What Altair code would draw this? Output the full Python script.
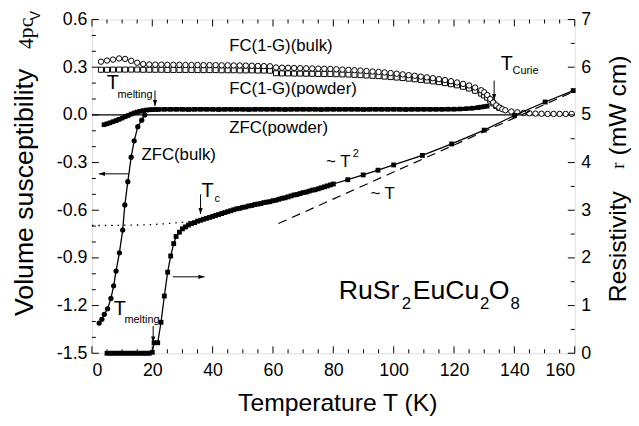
import altair as alt
import pandas as pd

W, H = 489, 338
FONT = "Liberation Sans"

# ---------------- data ----------------
fcb_T = [3,5,7,9,11,13,15,17,19,21,23,25,27,29,31,33,35,37,39,41,43,45,47,49,51,53,55,57,59,61,63,65,67,69,71,73,75,77,79,81,83,85,87,89,91,93,95,97,99,101,103,105,107,109,111,113,115,117,119,121,123,125,127,129,130,131,132,133,134,135,136,137,139,141,143,145,147,149,151,153,155,157,159]
fcb_chi = [0.335,0.342,0.348,0.355,0.352,0.340,0.328,0.320,0.317,0.316,0.316,0.315,0.315,0.315,0.314,0.314,0.314,0.313,0.313,0.313,0.312,0.312,0.311,0.311,0.310,0.309,0.308,0.307,0.306,0.298,0.297,0.296,0.295,0.294,0.293,0.292,0.291,0.290,0.289,0.287,0.285,0.283,0.281,0.279,0.276,0.273,0.270,0.267,0.263,0.259,0.255,0.250,0.246,0.241,0.236,0.231,0.225,0.219,0.212,0.204,0.195,0.185,0.172,0.155,0.142,0.125,0.100,0.078,0.060,0.046,0.036,0.029,0.021,0.016,0.012,0.010,0.008,0.007,0.006,0.006,0.006,0.006,0.006]

fcp_T = [3,5,7,9,11,13,15,17,19,21,23,25,27,29,31,33,35,37,39,41,43,45,47,49,51,53,55,57,59,61,63,65,67,69,71,73,75,77,79,81,83,85,87,89,91,93,95,97,99,101,103,105,107,109,111,113,115,117,119,121,123,125,127,129,130,131,132,133,134,135]
fcp_chi = [0.284,0.284,0.285,0.285,0.285,0.285,0.285,0.284,0.284,0.284,0.284,0.283,0.283,0.283,0.283,0.283,0.282,0.282,0.282,0.282,0.281,0.281,0.281,0.280,0.280,0.280,0.279,0.279,0.278,0.262,0.261,0.261,0.260,0.260,0.259,0.259,0.258,0.257,0.257,0.256,0.255,0.254,0.252,0.250,0.248,0.246,0.244,0.241,0.238,0.235,0.232,0.228,0.224,0.220,0.216,0.211,0.206,0.200,0.193,0.186,0.177,0.166,0.152,0.134,0.122,0.108,0.090,0.072,0.056,0.044]

zfcp_T = [4,5,6,7,8,9,10,11,12,13,14,15,16,17,18,19,20,21,22,24,26,28,30,32,34,36,38,40,42,44,46,48,50,52,54,56,58,60,62,64,66,68,70,72,74,76,78,80,82,84,86,88,90,92,94,96,98,100,102,104,106,108,110,112,114,116,118,120,122,124,126,128,129,130,131]
zfcp_chi = [-0.062,-0.056,-0.050,-0.043,-0.036,-0.028,-0.020,-0.012,-0.004,0.005,0.012,0.018,0.023,0.027,0.030,0.032,0.033,0.034,0.034,0.035,0.035,0.035,0.035,0.034,0.035,0.035,0.035,0.035,0.034,0.035,0.035,0.035,0.035,0.034,0.035,0.035,0.035,0.035,0.035,0.034,0.035,0.035,0.035,0.035,0.035,0.034,0.035,0.035,0.035,0.035,0.035,0.035,0.034,0.035,0.035,0.035,0.035,0.035,0.035,0.034,0.035,0.035,0.035,0.035,0.035,0.035,0.036,0.036,0.037,0.039,0.042,0.046,0.049,0.052,0.055]

zfcb_T = [2.4,3.3,4.1,5.2,6.3,7.2,8.0,9.1,10.2,10.9,11.9,13.0,14.0,15.2,16.5,17.5]
zfcb_chi = [-1.310,-1.286,-1.255,-1.220,-1.155,-1.076,-0.983,-0.868,-0.725,-0.567,-0.420,-0.266,-0.163,-0.074,-0.033,0.0]

rho_T = [5,6,7,8,9,10,11,12,13,14,15,16,17,18,19,20,20.6,21.8,22.9,24.0,25.1,26.1,27.1,27.9,29.0,30,31,32,33,34,35,36,37,38,39,40,41,42,43,44,45,46,47,48,49,50,51,52,53,54,55,56,57,58,59,60,61,62,63,64,65,66,67,68,69,70,71,72,73,74,75,76,77,78,79,80,84.8,89.9,94.8,100.0,109.5,119.2,130.0,140.1,150.2,159.5]
rho_val = [0,0,0,0,0,0,0,0,0,0,0,0,0,0,0,0.02,0.22,0.22,0.65,1.20,1.70,2.04,2.30,2.45,2.54,2.61,2.65,2.69,2.72,2.74,2.77,2.79,2.81,2.83,2.85,2.87,2.89,2.91,2.93,2.95,2.97,2.99,3.01,3.03,3.04,3.06,3.07,3.09,3.10,3.12,3.13,3.14,3.16,3.17,3.18,3.20,3.21,3.23,3.25,3.26,3.28,3.30,3.32,3.33,3.35,3.37,3.38,3.40,3.42,3.43,3.45,3.47,3.49,3.51,3.53,3.55,3.64,3.74,3.84,3.95,4.15,4.39,4.68,4.99,5.27,5.51]

dot_T = [0,5,10,15,20,25,30,35]
dot_rho = [2.68,2.68,2.685,2.69,2.70,2.72,2.745,2.78]

dash_T = [61.8,160]
dash_rho = [2.72,5.50]

x_major = [0,20,40,60,80,100,120,140,160]
x_minor = [5,10,15,25,30,35,45,50,55,65,70,75,85,90,95,105,110,115,125,130,135,145,150,155]
chi_major = [-1.5,-1.2,-0.9,-0.6,-0.3,0.0,0.3,0.6]
chi_minor = [-1.4,-1.3,-1.1,-1.0,-0.8,-0.7,-0.5,-0.4,-0.2,-0.1,0.1,0.2,0.4,0.5]
rho_major = [0,1,2,3,4,5,6,7]
rho_minor = [0.5,1.5,2.5,3.5,4.5,5.5,6.5]

# annotations (data coords)
labels = ["FC(1-G)(bulk)","FC(1-G)(powder)","ZFC(powder)","ZFC(bulk)","~ T","~ T"]
labels_T = [45.5,45.5,45.5,16.4,77.6,92.3]
labels_chi = [0.432,0.161,-0.080,-0.253,-0.296,-0.500]

bigT_T = [4.9,7.2,36.3,135.5]
bigT_chi = [0.198,-1.223,-0.482,0.321]
sub_text = ["melting","melting","c","Curie"]
sub_T = [8.5,10.8,40.6,139.4]
sub_chi = [0.124,-1.291,-0.531,0.278]

sup_text = ["2"]
sup_T = [86.4]
sup_chi = [-0.247]

formula_big = ["RuSr","EuCu","O"]
formula_big_T = [81.8,106.3,131.5]
formula_sub = ["2","2","8"]
formula_sub_T = [102.7,128.6,138.7]

varrow_T = [20.9,36.0,133.3,20.3]
varrow_from = [0.154,-0.500,0.216,-1.328]
varrow_to = [0.056,-0.624,0.093,-1.433]

harrow_chi = [-0.371,-1.019]
harrow_from = [12.1,26.8]
harrow_to = [2.3,37.3]
harrow_angle = [90,270]

# ---------------- scales / axes ----------------
xs = alt.Scale(domain=[0,160], nice=False, zero=False)
chis = alt.Scale(domain=[-1.5,0.6], nice=False, zero=False)
rhos = alt.Scale(domain=[0,7], nice=False, zero=False)

common = dict(labelFont=FONT, labelFontSize=18, labelColor="black", ticks=False,
              domain=False, grid=False, title=None)
x_axis = alt.Axis(values=x_major, format="d", labelPadding=9, **common)
chi_axis = alt.Axis(values=chi_major, labelPadding=5,
                    labelExpr="datum.value < 0 ? '-' + format(-datum.value, '.1f') : format(datum.value, '.1f')",
                    **common)
rho_axis = alt.Axis(orient="right", values=rho_major, format="d", labelPadding=6, **common)


def X(f):
    return alt.X(f"{f}:Q", scale=xs, axis=x_axis)


def X2(f):
    return alt.X2(f"{f}:Q")


def YC(f):
    return alt.Y(f"{f}:Q", scale=chis, axis=chi_axis)


def YR(f):
    return alt.Y(f"{f}:Q", scale=rhos, axis=rho_axis)


def df(**kw):
    return pd.DataFrame(kw)


ARROW = "M-0.35,-1L0.35,-1L0,0Z"

# ---------------- chi layers ----------------
tick_bot_maj = alt.Chart(df(v=x_major)).mark_rule(color="black", strokeWidth=1).encode(
    x=X("v"), y=alt.value(H), y2=alt.value(H - 7))
tick_bot_min = alt.Chart(df(v=x_minor)).mark_rule(color="black", strokeWidth=1).encode(
    x=X("v"), y=alt.value(H), y2=alt.value(H - 4))
tick_top_maj = alt.Chart(df(v=x_major)).mark_rule(color="black", strokeWidth=1).encode(
    x=X("v"), y=alt.value(0), y2=alt.value(7))
tick_top_min = alt.Chart(df(v=x_minor)).mark_rule(color="black", strokeWidth=1).encode(
    x=X("v"), y=alt.value(0), y2=alt.value(4))
tick_left_maj = alt.Chart(df(v=chi_major)).mark_rule(color="black", strokeWidth=1).encode(
    y=YC("v"), x=alt.value(0), x2=alt.value(7))
tick_left_min = alt.Chart(df(v=chi_minor)).mark_rule(color="black", strokeWidth=1).encode(
    y=YC("v"), x=alt.value(0), x2=alt.value(4))

zero_line = alt.Chart(df(chi=[0.0])).mark_rule(color="black", strokeWidth=1.3).encode(y=YC("chi"))

fcp = alt.Chart(df(T=fcp_T, chi=fcp_chi)).mark_point(
    shape="square", size=26, filled=True, fill="white", stroke="black", strokeWidth=1, opacity=1
).encode(x=X("T"), y=YC("chi"))

fcb = alt.Chart(df(T=fcb_T, chi=fcb_chi)).mark_point(
    shape="circle", size=30, filled=True, fill="white", stroke="black", strokeWidth=1, opacity=1
).encode(x=X("T"), y=YC("chi"))

zfcp_df = df(T=zfcp_T, chi=zfcp_chi)
zfcp_line = alt.Chart(zfcp_df).mark_line(color="black", strokeWidth=4).encode(x=X("T"), y=YC("chi"))
zfcp_pts = alt.Chart(zfcp_df).mark_point(shape="square", size=22, filled=True, color="black", opacity=1).encode(
    x=X("T"), y=YC("chi"))

zfcb_df = df(T=zfcb_T, chi=zfcb_chi)
zfcb_line = alt.Chart(zfcb_df).mark_line(color="black", strokeWidth=1.3).encode(x=X("T"), y=YC("chi"))
zfcb_pts = alt.Chart(zfcb_df).mark_point(shape="circle", size=28, filled=True, color="black", opacity=1).encode(
    x=X("T"), y=YC("chi"))

va_df = df(T=varrow_T, a=varrow_from, b=varrow_to)
va_shaft = alt.Chart(va_df).mark_rule(color="black", strokeWidth=1).encode(x=X("T"), y=YC("a"), y2=alt.Y2("b:Q"))
va_head = alt.Chart(va_df).mark_point(shape=ARROW, size=150, filled=True, color="black", opacity=1).encode(
    x=X("T"), y=YC("b"))

ha_df = df(chi=harrow_chi, a=harrow_from, b=harrow_to, ang=harrow_angle)
ha_shaft = alt.Chart(ha_df).mark_rule(color="black", strokeWidth=1).encode(x=X("a"), x2=X2("b"), y=YC("chi"))
ha_head = alt.Chart(ha_df).mark_point(shape=ARROW, size=150, filled=True, color="black", opacity=1).encode(
    x=X("b"), y=YC("chi"), angle=alt.Angle("ang:Q", scale=None))

lab = alt.Chart(df(t=labels, T=labels_T, chi=labels_chi)).mark_text(
    font=FONT, fontSize=17, align="left", baseline="middle", color="black").encode(
    x=X("T"), y=YC("chi"), text="t:N")
bigT = alt.Chart(df(T=bigT_T, chi=bigT_chi)).mark_text(
    text="T", font=FONT, fontSize=20, align="left", baseline="middle", color="black").encode(
    x=X("T"), y=YC("chi"))
subs = alt.Chart(df(t=sub_text, T=sub_T, chi=sub_chi)).mark_text(
    font=FONT, fontSize=11, align="left", baseline="middle", color="black").encode(
    x=X("T"), y=YC("chi"), text="t:N")
sups = alt.Chart(df(t=sup_text, T=sup_T, chi=sup_chi)).mark_text(
    font=FONT, fontSize=11, align="left", baseline="middle", color="black").encode(
    x=X("T"), y=YC("chi"), text="t:N")
form_big = alt.Chart(df(t=formula_big, T=formula_big_T, chi=[-1.161] * 3)).mark_text(
    font=FONT, fontSize=27, align="left", baseline="alphabetic", color="black").encode(
    x=X("T"), y=YC("chi"), text="t:N")
form_sub = alt.Chart(df(t=formula_sub, T=formula_sub_T, chi=[-1.223] * 3)).mark_text(
    font=FONT, fontSize=17, align="left", baseline="alphabetic", color="black").encode(
    x=X("T"), y=YC("chi"), text="t:N")


def ptext(txt, px, py, size, font=FONT, angle=0):
    kw = dict(font=font, fontSize=size, align="center", baseline="middle", color="black")
    if angle:
        kw["angle"] = angle
    return alt.Chart(df(t=[txt])).mark_text(**kw).encode(text="t:N", x=alt.value(px), y=alt.value(py))


# title positions in plot pixels (plot origin at page 93, 17)
titles = [
    ptext("Temperature T (K)", 249, 388, 25),
    ptext("Volume susceptibility", -68, 175, 27, angle=270),
    ptext("4pc", -67, 14, 22, font="Liberation Serif", angle=270),
    ptext("V", -57, -4, 14, angle=270),
    ptext("Resistivity", 533, 230, 25, angle=270),
    ptext("r", 533, 148, 19, font="Liberation Serif", angle=270),
    ptext("(mW cm)", 533, 87, 25, angle=270),
]

chi_layer = alt.layer(
    tick_bot_maj, tick_bot_min, tick_top_maj, tick_top_min, tick_left_maj, tick_left_min,
    zero_line, fcp, fcb, zfcp_line, zfcp_pts, zfcb_line, zfcb_pts,
    va_shaft, va_head, ha_shaft, ha_head, lab, bigT, subs, sups, form_big, form_sub, *titles
)

# ---------------- rho layers ----------------
tick_right_maj = alt.Chart(df(v=rho_major)).mark_rule(color="black", strokeWidth=1).encode(
    y=YR("v"), x=alt.value(W), x2=alt.value(W - 7))
tick_right_min = alt.Chart(df(v=rho_minor)).mark_rule(color="black", strokeWidth=1).encode(
    y=YR("v"), x=alt.value(W), x2=alt.value(W - 4))

dotted = alt.Chart(df(T=dot_T, r=dot_rho)).mark_line(color="black", strokeWidth=1.3, strokeDash=[1.5, 5]).encode(
    x=X("T"), y=YR("r"))
dashed = alt.Chart(df(T=dash_T, r=dash_rho)).mark_line(color="black", strokeWidth=1.2, strokeDash=[9, 6]).encode(
    x=X("T"), y=YR("r"))
rho_df = df(T=rho_T, r=rho_val)
rho_line = alt.Chart(rho_df).mark_line(color="black", strokeWidth=1.3).encode(x=X("T"), y=YR("r"))
rho_pts = alt.Chart(rho_df).mark_point(shape="square", size=24, filled=True, color="black", opacity=1).encode(
    x=X("T"), y=YR("r"))

rho_layer = alt.layer(tick_right_maj, tick_right_min, dotted, dashed, rho_line, rho_pts)

chart = alt.layer(chi_layer, rho_layer).resolve_scale(y="independent").properties(
    width=W, height=H,
    autosize=alt.AutoSizeParams(type="none"),
    padding={"left": 85, "top": 9, "right": 57, "bottom": 71},
).configure_view(stroke="black", strokeWidth=1.5).configure(background="white")

chart.save("out.html", embed_options={"renderer": "svg", "actions": False})
